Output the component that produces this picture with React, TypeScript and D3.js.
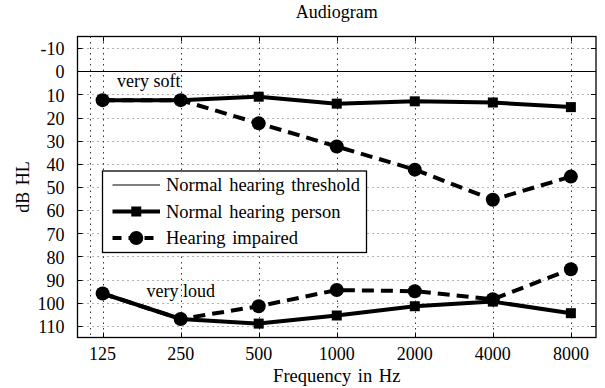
import React from 'react';
import * as d3 from 'd3';

// audiogram data (dB HL, larger = louder)
const frequencies = [125, 250, 500, 1000, 2000, 4000, 8000];
const normalSoft = [12.5, 12.5, 11, 14, 13, 13.5, 15.5];
const normalLoud = [96, 107, 109, 105.5, 101.5, 99.5, 104.5];
const impairedSoft = [12.5, 12.5, 22.5, 32.5, 42.5, 55.5, 45.5];
const impairedLoud = [96, 107, 101.5, 94.5, 95, 98.5, 85.5];
const yTicks = [-10, 0, 10, 20, 30, 40, 50, 60, 70, 80, 90, 100, 110];
const minorGridFreqs = [112];
const thresholdLevel = 0;
const legendLabels = ['Normal hearing threshold', 'Normal hearing person', 'Hearing impaired'];

const W = 605;
const H = 388;
const margin = { top: 36.5, right: 9, bottom: 50.5, left: 77.5 };
const font = 'Liberation Serif';

function App() {
  const x = d3.scaleLog().domain([100, 10000]).range([margin.left, W - margin.right]);
  const y = d3.scaleLinear().domain([-15, 115]).range([margin.top, H - margin.bottom]);
  const [x0, x1] = x.range();
  const [y0, y1] = y.range();

  const line = d3.line<number>()
    .x((_, i) => x(frequencies[i]))
    .y(d => y(d));

  const tick = 5;
  const sq = 10;
  const r = 7;
  const px = (v: number) => Math.round(v) + 0.5;

  const squares = (vals: number[]) => vals.map((v, i) => (
    <rect key={i} x={x(frequencies[i]) - sq / 2} y={y(v) - sq / 2} width={sq} height={sq} fill="#000" />
  ));
  const circles = (vals: number[]) => vals.map((v, i) => (
    <circle key={i} cx={x(frequencies[i])} cy={y(v)} r={r} fill="#000" />
  ));

  const lx = 102.5, ly = 171, lw = 264, lh = 81.5;
  const rowY = (i: number) => ly + 14 + i * 26.5;
  const ts = { fontFamily: font };

  return (
    <svg width={W} height={H} style={{ position: 'absolute', left: 0, top: 0, background: '#fff', fontFamily: font }}>
      <rect x={0} y={0} width={W} height={H} fill="#fff" />

      {/* grid */}
      <g stroke="#000" strokeWidth={1} fill="none">
        {yTicks.map(t => (
          <line key={'h' + t} x1={x0} x2={x1} y1={px(y(t))} y2={px(y(t))}
            strokeDasharray="1,4" strokeOpacity={0.6} />
        ))}
        {frequencies.concat(minorGridFreqs).map(f => (
          <line key={'v' + f} x1={px(x(f))} x2={px(x(f))} y1={y0} y2={y1}
            strokeDasharray="1.5,4" strokeOpacity={0.8} />
        ))}
      </g>

      {/* threshold */}
      <line x1={x0} x2={x1} y1={px(y(thresholdLevel))} y2={px(y(thresholdLevel))} stroke="#000" strokeWidth={1} />

      {/* ticks */}
      <g stroke="#000" strokeWidth={1}>
        {yTicks.map(t => (
          <g key={'yt' + t}>
            <line x1={x0} x2={x0 + tick} y1={px(y(t))} y2={px(y(t))} />
            <line x1={x1} x2={x1 - tick} y1={px(y(t))} y2={px(y(t))} />
          </g>
        ))}
        {frequencies.map(f => (
          <g key={'xt' + f}>
            <line x1={px(x(f))} x2={px(x(f))} y1={y0} y2={y0 + tick} />
            <line x1={px(x(f))} x2={px(x(f))} y1={y1} y2={y1 - tick} />
          </g>
        ))}
      </g>

      {/* series */}
      <g fill="none" stroke="#000" strokeWidth={4} strokeLinejoin="round">
        <path d={line(normalSoft) ?? ''} />
        <path d={line(normalLoud) ?? ''} />
      </g>
      {squares(normalSoft)}
      {squares(normalLoud)}
      <g fill="none" stroke="#000" strokeWidth={4} strokeDasharray="12,7">
        <path d={line(impairedSoft) ?? ''} />
        <path d={line(impairedLoud) ?? ''} />
      </g>
      {circles(impairedSoft)}
      {circles(impairedLoud)}

      {/* annotations */}
      <text x={117} y={86.5} fontSize={18} style={ts}>very soft</text>
      <text x={146.5} y={296.5} fontSize={18} style={ts}>very loud</text>

      {/* frame */}
      <rect x={x0} y={y0} width={x1 - x0} height={y1 - y0} fill="none" stroke="#000" strokeWidth={1.3} />

      {/* tick labels */}
      <g fontSize={18} fill="#000">
        {yTicks.map(t => (
          <text key={'yl' + t} x={x0 - 13} y={y(t)} dy="0.4em" textAnchor="end" style={ts}>{t}</text>
        ))}
        {frequencies.map(f => (
          <text key={'xl' + f} x={x(f)} y={360} textAnchor="middle" style={ts}>{f}</text>
        ))}
      </g>

      {/* titles */}
      <text x={(x0 + x1) / 2} y={18} fontSize={18} textAnchor="middle" style={ts}>Audiogram</text>
      <text x={(x0 + x1) / 2} y={382} fontSize={18.5} textAnchor="middle" wordSpacing={2} style={ts}>Frequency in Hz</text>
      <text transform={`translate(29,${(y0 + y1) / 2}) rotate(-90)`} fontSize={18} textAnchor="middle" wordSpacing={2} style={ts}>dB HL</text>

      {/* legend */}
      <rect x={lx} y={ly} width={lw} height={lh} fill="#fff" stroke="#000" strokeWidth={1.3} />
      <g stroke="#000">
        <line x1={112.5} x2={160} y1={rowY(0)} y2={rowY(0)} strokeWidth={1} />
        <line x1={112.5} x2={160} y1={rowY(1)} y2={rowY(1)} strokeWidth={4} />
        <line x1={112.5} x2={160} y1={rowY(2)} y2={rowY(2)} strokeWidth={4} strokeDasharray="9,7" />
      </g>
      <rect x={136.25 - sq / 2} y={rowY(1) - sq / 2} width={sq} height={sq} fill="#000" />
      <circle cx={136.25} cy={rowY(2)} r={r} fill="#000" />
      <g fontSize={18.5} fill="#000" wordSpacing={2}>
        {legendLabels.map((l, i) => (
          <text key={l} x={166} y={rowY(i)} dy="0.35em" style={ts}>{l}</text>
        ))}
      </g>
    </svg>
  );
}

export default App;
